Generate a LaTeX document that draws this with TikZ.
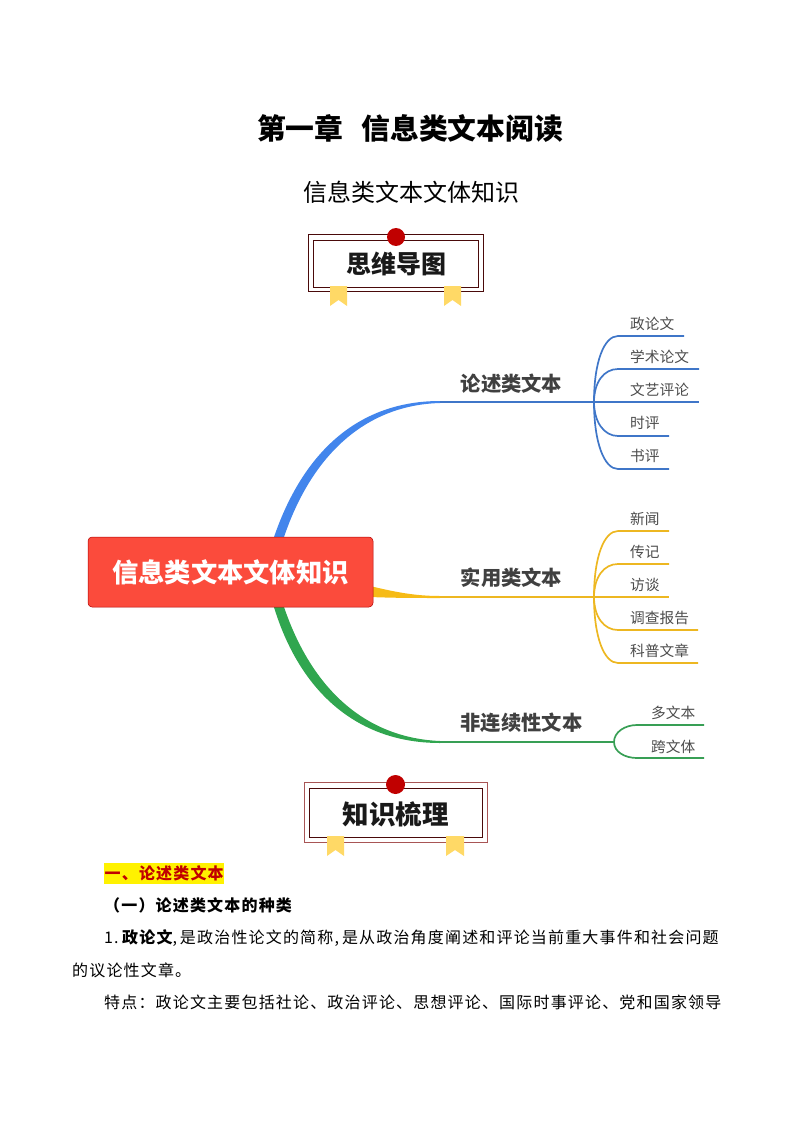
\documentclass[tikz,border=0pt]{standalone}
\usepackage{fontspec}
\setmainfont{Noto Sans CJK SC}
\newfontfamily\bodyfont[LetterSpace=7.35]{Noto Sans CJK SC}
\definecolor{mapblue}{HTML}{4285EC}
\definecolor{lineblue}{HTML}{3F76C8}
\definecolor{mapyellow}{HTML}{F6BB16}
\definecolor{lineyellow}{HTML}{EDB721}
\definecolor{mapgreen}{HTML}{30A64F}
\definecolor{linegreen}{HTML}{389F55}
\definecolor{rootred}{HTML}{FB4B3C}
\definecolor{pinred}{HTML}{C00000}
\definecolor{ribbon}{HTML}{FFD966}
\definecolor{frametwo}{HTML}{A85555}
\definecolor{framedark}{HTML}{4A0A0A}
\tikzset{
  root/.style={draw=red!70!black,line width=0.5pt,fill=rootred,rounded corners=4pt,
    minimum width=285pt,minimum height=70pt,text=white,
    font=\fontsize{26.3}{28}\selectfont\bfseries},
  branch/.style={text=black!75,inner sep=0pt,font=\fontsize{20.3}{22}\selectfont\bfseries},
  leaf/.style={anchor=west,text=black!70,inner sep=0pt,font=\fontsize{14.7}{16}\selectfont},
  banner/.style={inner sep=0pt,text=black!90,font=\bfseries},
  bodyline/.style={anchor=west,inner sep=0pt,font=\fontsize{16}{18}\selectfont\bodyfont},
  twig/.style={line width=1.7pt},
}
\begin{document}
\begin{tikzpicture}[x=1pt,y=-1pt]
  \useasboundingbox (0,0) rectangle (794,1123);
  \node (title) at (410,128) {\fontsize{28.8}{30}\selectfont\bfseries 第一章\hspace{18pt}信息类文本阅读};
  \node (subtitle) at (411,192) {\fontsize{24}{26}\selectfont 信息类文本文体知识};
  % first banner
  \begin{scope}
    \draw[framedark,line width=0.8pt] (308.5,234.5) rectangle (483.5,291.5);
    \draw[framedark,line width=0.8pt] (313.5,240.5) rectangle (478.5,287);
    \fill[ribbon] (330,286) -- (347,286) -- (347,306) -- (338.5,300) -- (330,306) -- cycle;
    \fill[ribbon] (444,286) -- (461,286) -- (461,306) -- (452.5,300) -- (444,306) -- cycle;
    \fill[pinred] (396,237) circle[radius=9];
    \node[banner] (mapbanner) at (396,264) {\fontsize{25}{27}\selectfont 思维导图};
  \end{scope}
  % branches, under the root
  \fill[mapblue] (273,540) .. controls (303,450) and (360,401) .. (440,401)
    -- (440,403) .. controls (368,405) and (312,452) .. (283,540) -- cycle;
  \fill[mapyellow] (370,586) .. controls (395,592) and (415,596) .. (440,596)
    -- (440,598) .. controls (415,598) and (395,598) .. (370,597) -- cycle;
  \fill[mapgreen] (273,604) .. controls (300,695) and (360,743) .. (440,743)
    -- (440,741) .. controls (368,738) and (312,692) .. (283,604) -- cycle;
  \node[root] (root) at (230.5,572) {\raisebox{-1pt}{信息类文本文体知识}};
  \draw
    (511.5,383.7) node[branch] (lunshu){论述类文本}
    (511.5,577.7) node[branch] (shiyong){实用类文本}
    (521.5,722.7) node[branch] (feilianxu){非连续性文本};
  \draw
    (630,323.6) node[leaf] (zheng){政论文}
    (630,356.6) node[leaf] (xueshu){学术论文}
    (630,389.6) node[leaf] (wenyi){文艺评论}
    (630,422.6) node[leaf] (shiping){时评}
    (630,455.6) node[leaf] (shuping){书评}
    (630,518.6) node[leaf] (xinwen){新闻}
    (630,551.6) node[leaf] (zhuanji){传记}
    (630,584.6) node[leaf] (fangtan){访谈}
    (630,617.6) node[leaf] (diaocha){调查报告}
    (630,650.6) node[leaf] (kepu){科普文章}
    (651,712.6) node[leaf] (duo){多文本}
    (651,746.6) node[leaf] (kua){跨文体};
  \coordinate (blueroot) at (440,402);
  \coordinate (bluehub) at (594,402);
  \coordinate (blue1) at (684,336);
  \coordinate (blue2) at (699,369);
  \coordinate (blue3) at (699,402);
  \coordinate (blue4) at (669,436);
  \coordinate (blue5) at (669,469);
  \coordinate (yellowroot) at (440,597);
  \coordinate (yellowhub) at (594,597);
  \coordinate (yellow1) at (669,531);
  \coordinate (yellow2) at (669,564);
  \coordinate (yellow3) at (669,597);
  \coordinate (yellow4) at (698,630);
  \coordinate (yellow5) at (698,663);
  \coordinate (greenroot) at (440,742);
  \coordinate (greenhub) at (614,742);
  \coordinate (green1) at (704,725);
  \coordinate (green2) at (704,758);
  \begin{scope}[twig,lineblue]
    \draw (blueroot) to (blue3);
    \draw (bluehub) .. controls +(0,-40) and +(-14,0) .. (618,336) to (blue1);
    \draw (bluehub) .. controls +(0,-20) and +(-14,0) .. (618,369) to (blue2);
    \draw (bluehub) .. controls +(0,20) and +(-14,0) .. (618,436) to (blue4);
    \draw (bluehub) .. controls +(0,40) and +(-14,0) .. (618,469) to (blue5);
  \end{scope}
  \begin{scope}[twig,lineyellow]
    \draw (yellowroot) to (yellow3);
    \draw (yellowhub) .. controls +(0,-40) and +(-14,0) .. (618,531) to (yellow1);
    \draw (yellowhub) .. controls +(0,-20) and +(-14,0) .. (618,564) to (yellow2);
    \draw (yellowhub) .. controls +(0,20) and +(-14,0) .. (618,630) to (yellow4);
    \draw (yellowhub) .. controls +(0,40) and +(-14,0) .. (618,663) to (yellow5);
  \end{scope}
  \begin{scope}[twig,linegreen]
    \draw (greenroot) to (greenhub);
    \draw (greenhub) .. controls +(0,-10) and +(-12,0) .. (637,725) to (green1);
    \draw (greenhub) .. controls +(0,10) and +(-12,0) .. (637,758) to (green2);
  \end{scope}
  % second banner
  \begin{scope}
    \draw[frametwo,line width=1pt] (304,782) rectangle (487,842);
    \draw[framedark,line width=0.8pt] (309,788) rectangle (482,837);
    \fill[ribbon] (327,836) -- (344,836) -- (344,856) -- (335.5,850) -- (327,856) -- cycle;
    \fill[ribbon] (446,836) -- (464,836) -- (464,856) -- (455,850) -- (446,856) -- cycle;
    \fill[pinred] (395.5,784.5) circle[radius=9.5];
    \node[banner] (notebanner) at (395.5,814) {\fontsize{26.5}{28}\selectfont 知识梳理};
  \end{scope}
  % text under the banner
  \node[bodyline,fill=yellow,minimum width=120pt,minimum height=21pt,text=pinred] (head) at (104,873.5) {\bfseries 一、论述类文本};
  \node[bodyline] (kinds) at (104,905) {\bfseries （一）论述类文本的种类};
  \node[bodyline] (lineone) at (104,938) {1.\kern3.5pt{\bfseries 政论文},\kern3pt 是政治性论文的简称,\kern3pt 是从政治角度阐述和评论当前重大事件和社会问题};
  \node[bodyline] (linetwo) at (72,970) {的议论性文章。};
  \node[bodyline] (linethree) at (104,1002) {特点：政论文主要包括社论、政治评论、思想评论、国际时事评论、党和国家领导};
\end{tikzpicture}
\end{document}
